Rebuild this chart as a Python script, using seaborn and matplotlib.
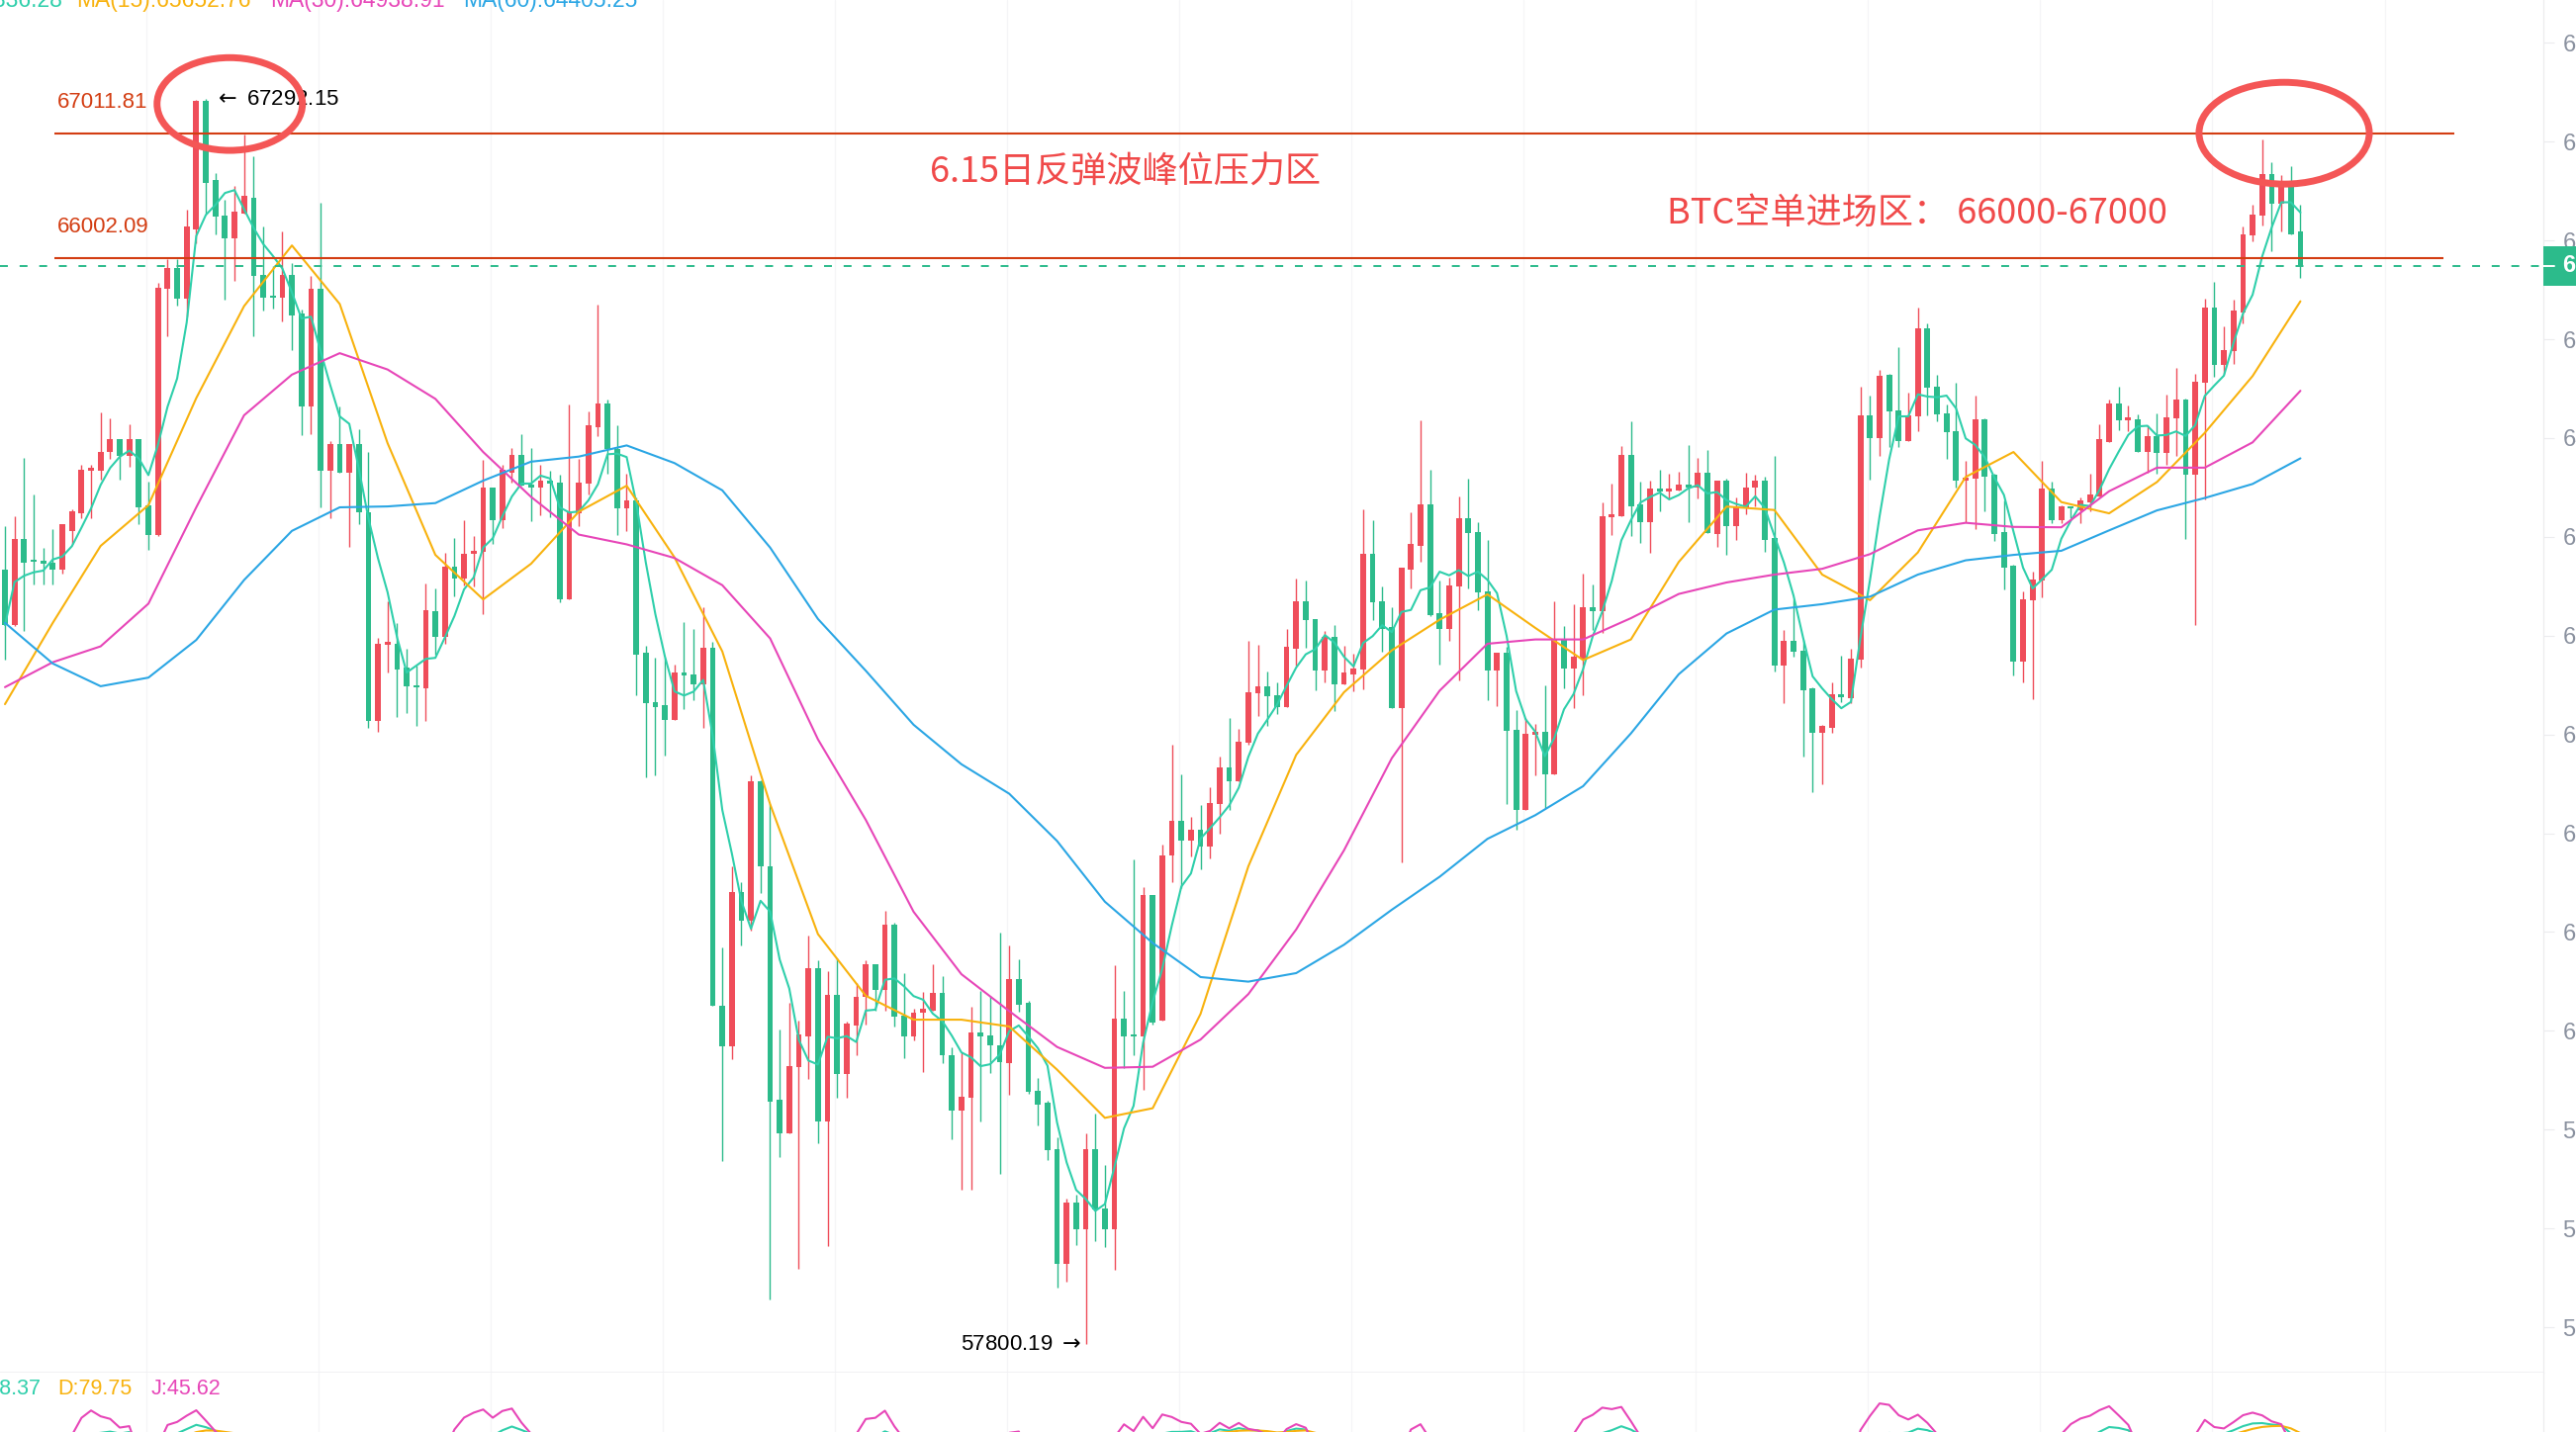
import numpy as np
import pandas as pd
import matplotlib
matplotlib.use("Agg")
import matplotlib.pyplot as plt
import matplotlib.transforms as mtransforms
from matplotlib.patches import Ellipse, Rectangle
from matplotlib.ticker import NullLocator
import seaborn as sns

# candle data (one bar per index)
open_ = [63538, 63107, 63771, 63614, 63604, 63587, 63538, 63837, 63971, 64307,
         64307, 64458, 64559, 64424, 64559, 64038, 63804, 65751, 65923, 65676,
         66235, 67280, 66634, 66346, 66158, 66363, 66485, 65861, 65700, 65683,
         65861, 65552, 64813, 65751, 64307, 64519, 64290, 64519, 63981, 62369,
         62953, 62959, 62778, 62647, 62624, 63214, 63014, 63556, 63466, 63656,
         63677, 64174, 63920, 64292, 64435, 64200, 64174, 64230, 64215, 63305,
         63971, 64205, 64654, 64839, 64481, 64012, 64078, 62894, 62515, 62490,
         62381, 62744, 62729, 62655, 62929, 60240, 59944, 61083, 60866, 61913,
         61277, 59551, 59305, 59788, 60016, 60519, 59395, 60322, 59740, 60097,
         60304, 60548, 60355, 60842, 60170, 60011, 60187, 60200, 60334, 59879,
         59474, 59568, 60041, 60024, 59949, 59817, 60438, 60262, 59618, 59527,
         59193, 58371, 58809, 58614, 59193, 58765, 58614, 60145, 60032, 60011,
         61062, 60128, 61359, 61614, 61465, 61550, 61422, 61743, 62022, 61914,
         62203, 62583, 62635, 62570, 62477, 62925, 63288, 63154, 62760, 63016,
         62654, 62729, 62762, 63659, 63288, 63092, 62472, 63538, 63723, 64044,
         63199, 63080, 63403, 63936, 63825, 63365, 62760, 62894, 62302, 61695,
         62264, 62289, 61964, 62996, 62775, 62851, 63245, 63217, 63941, 63954,
         64432, 64044, 63908, 64168, 64142, 64152, 64199, 64173, 64289, 63815,
         64227, 63876, 64019, 64174, 64227, 63780, 62793, 62984, 62906, 62618,
         62280, 62319, 62574, 62548, 62840, 64743, 64562, 65062, 64786, 64543,
         64737, 65435, 64975, 64759, 64616, 64232, 64248, 64710, 64275, 63828,
         63563, 62822, 63299, 63452, 64168, 63921, 64027, 64000, 64062, 64107,
         64535, 64837, 64702, 64711, 64457, 64582, 64451, 64720, 64870, 64278,
         65002, 65605, 65141, 65252, 65563, 66185, 66346, 66679, 66438, 66592,
         66215]

high = [63871, 63954, 64408, 64122, 63704, 63854, 63888, 64004, 64357, 64357,
        64769, 64721, 64559, 64677, 64559, 64223, 65803, 65992, 65992, 66391,
        67285, 67292.15, 66693, 66471, 66582, 67008, 66826, 66255, 65940, 66217,
        65957, 65587, 65854, 66450, 64542, 64813, 64519, 64633, 64458, 63009,
        63289, 63124, 62926, 62794, 63428, 63390, 63666, 63783, 63920, 63798,
        64394, 64174, 64353, 64486, 64598, 64486, 64358, 64307, 64276, 64829,
        64404, 64777, 65630, 64870, 64665, 64281, 64098, 62944, 62854, 62854,
        62804, 63129, 63079, 63244, 62979, 60673, 61277, 61156, 61962, 61922,
        61741, 60064, 60264, 60130, 60755, 60577, 60495, 60586, 60121, 60408,
        60577, 60548, 60943, 60850, 60481, 60221, 60338, 60548, 60460, 59937,
        59900, 60229, 60346, 60313, 60779, 60682, 60585, 60275, 59709, 59544,
        59276, 58838, 58866, 59309, 59453, 59082, 60535, 60346, 61329, 61117,
        61062, 61435, 62194, 61966, 61648, 61734, 61871, 62099, 62397, 62315,
        62984, 62953, 62748, 62670, 63077, 63467, 63449, 63154, 63064, 63105,
        62945, 62889, 64005, 63923, 63403, 63245, 63551, 63979, 64705, 64315,
        63449, 63472, 64108, 64245, 63903, 63766, 62894, 62940, 62452, 62394,
        62352, 62641, 63288, 63103, 63268, 63505, 63423, 64057, 64206, 64502,
        64697, 64224, 64230, 64315, 64281, 64302, 64510, 64406, 64468, 64227,
        64248, 64099, 64294, 64275, 64259, 64428, 63071, 63305, 62990, 62631,
        62345, 62670, 62874, 62927, 64972, 64900, 65108, 65075, 65283, 64921,
        65605, 65476, 65062, 64832, 64999, 64383, 64900, 64724, 64286, 64072,
        63576, 63365, 63523, 64388, 64222, 64040, 64027, 64099, 64281, 64675,
        64872, 64975, 64824, 64750, 64666, 64756, 64906, 65117, 64876, 65071,
        65675, 65806, 65454, 65666, 66255, 66429, 66963, 66778, 66670, 66747,
        66429]

low = [62844, 63100, 63058, 63422, 63422, 63422, 63505, 63737, 63937, 63937,
       64240, 64398, 64240, 64340, 63888, 63687, 63800, 65374, 65621, 65528,
       66120, 66356, 66193, 65666, 65820, 66360, 65374, 65580, 65597, 65494,
       65265, 64586, 64599, 64021, 63937, 64290, 63714, 63888, 62320, 62287,
       62745, 62402, 62434, 62336, 62369, 62879, 62964, 63330, 63415, 63405,
       63194, 63732, 63859, 64215, 64190, 63910, 63961, 63946, 63279, 63305,
       63874, 64123, 64583, 64281, 63808, 63834, 62570, 61947, 61962, 62109,
       62381, 62465, 62530, 62321, 60240, 59104, 59849, 60687, 60793, 61074,
       58114, 59137, 59305, 58335, 59702, 59235, 58498, 59565, 59565, 59873,
       60103, 60200, 60200, 60087, 59858, 59983, 59755, 60200, 59817, 59268,
       58899, 58899, 59391, 59743, 59013, 59585, 60192, 59597, 59362, 59115,
       58201, 58241, 58504, 57800.19, 58533, 58492, 58330, 59784, 59879, 59626,
       60103, 60128, 61155, 61113, 61350, 61252, 61337, 61520, 61700, 61914,
       62194, 62410, 62337, 62423, 62477, 62792, 62932, 62603, 62666, 62445,
       62654, 62596, 62616, 63143, 62899, 62472, 61307, 63390, 63595, 63179,
       62805, 62988, 62679, 63390, 63225, 62528, 62482, 61745, 61547, 61695,
       61959, 61710, 61964, 62621, 62472, 62566, 63067, 63047, 63807, 63954,
       63800, 63741, 63664, 63992, 64083, 64152, 63903, 64090, 63818, 63709,
       63648, 63770, 63966, 64027, 63674, 62749, 62506, 62866, 62105, 61829,
       61888, 62280, 62519, 62509, 62783, 64240, 64428, 64495, 64495, 64543,
       64616, 64745, 64697, 64402, 64174, 63908, 63849, 63987, 63762, 63386,
       62717, 62670, 62540, 63320, 63894, 63894, 63934, 63894, 63987, 64107,
       64535, 64629, 64616, 64457, 64293, 64284, 64352, 64427, 63776, 63107,
       64085, 65050, 65071, 65153, 65478, 66136, 66264, 66056, 66215, 66194,
       65842]

close = [63107, 63771, 63587, 63594, 63581, 63538, 63888, 63988, 64317, 64330,
         64458, 64559, 64424, 64559, 64021, 63804, 65758, 65923, 65676, 66255,
         67280, 66610, 66332, 66158, 66373, 66502, 65854, 65683, 65683, 65861,
         65538, 64813, 65751, 64307, 64519, 64290, 64519, 63981, 62369, 62959,
         62976, 62768, 62637, 62630, 63223, 63014, 63556, 63466, 63656, 63682,
         64174, 63920, 64317, 64435, 64190, 64174, 64230, 64205, 63305, 63987,
         64215, 64665, 64839, 64481, 64012, 64078, 62879, 62505, 62480, 62381,
         62744, 62719, 62655, 62929, 60240, 59944, 61083, 60866, 61913, 61277,
         59541, 59305, 59797, 60026, 60519, 59395, 60322, 59740, 60107, 60302,
         60548, 60355, 60842, 60158, 60011, 60187, 60221, 60334, 59879, 59474,
         59577, 60041, 60011, 59949, 59825, 60438, 60250, 59610, 59515, 59185,
         58371, 58809, 58614, 59193, 58756, 58614, 60145, 60011, 60011, 61062,
         60116, 61359, 61614, 61465, 61550, 61422, 61751, 62022, 61914, 62216,
         62592, 62635, 62561, 62475, 62940, 63288, 63143, 62760, 63016, 62654,
         62742, 62773, 63659, 63281, 63077, 62472, 63551, 63736, 64044, 63186,
         63080, 63410, 63936, 63818, 63357, 62760, 62894, 62294, 61695, 62277,
         62289, 61964, 62996, 62775, 62861, 63245, 63217, 63954, 63967, 64432,
         64031, 63908, 64168, 64142, 64168, 64199, 64173, 64289, 63818, 64227,
         63876, 64027, 64179, 64227, 63770, 62793, 62984, 62901, 62605, 62280,
         62332, 62574, 62553, 62845, 64743, 64562, 65056, 64778, 64543, 64743,
         65435, 64967, 64751, 64608, 64232, 64254, 64710, 64262, 63815, 63550,
         62822, 63305, 63457, 64168, 63921, 64027, 64014, 64072, 64120, 64557,
         64837, 64702, 64732, 64457, 64582, 64451, 64726, 64870, 64278, 65011,
         65605, 65141, 65261, 65575, 66194, 66355, 66679, 66438, 66592, 66194,
         65940]

# moving averages every 5 bars
ma_idx = list(range(0, 241, 5))
ma15 = [62500, 63124, 63720, 64038, 64881, 65614, 66102, 65631, 64525, 63650,
        63305, 63581, 63987, 64190, 63631, 62904, 61741, 60769, 60313, 60137,
        60137, 60087, 59771, 59420, 59490, 60179, 61274, 62114, 62591, 62912,
        63148, 63344, 63085, 62838, 62996, 63595, 64027, 64000, 63497, 63299,
        63669, 64259, 64455, 64062, 63974, 64219, 64606, 65056, 65652.76]
ma30 = [62630, 62821, 62943, 63272, 64021, 64745, 65067, 65238, 65108, 64875,
        64455, 64103, 63808, 63732, 63626, 63415, 63004, 62232, 61623, 60935,
        60472, 60200, 59937, 59784, 59792, 59991, 60325, 60803, 61394, 62089,
        62603, 62963, 62996, 62996, 63160, 63347, 63436, 63497, 63542, 63656,
        63841, 63900, 63868, 63865, 64147, 64332, 64332, 64531, 64938.91]
ma60 = [63124, 62811, 62637, 62703, 62992, 63455, 63837, 64021, 64028, 64054,
        64230, 64379, 64419, 64507, 64368, 64154, 63707, 63154, 62756, 62343,
        62043, 61820, 61464, 61010, 60703, 60451, 60417, 60480, 60690, 60950,
        61196, 61480, 61658, 61877, 62277, 62729, 63042, 63226, 63268, 63326,
        63497, 63608, 63650, 63682, 63841, 63997, 64094, 64204, 64405.25]

resist_hi = 67011.81
resist_lo = 66002.09
peak_bar, peak_price = 21, 67292.15
bottom_bar, bottom_price = 113, 57800.19
price_ticks = [67759, 66946, 66143, 65349, 64565, 63790, 63025, 62269,
               61522, 60784, 60054, 59334, 58622, 57918]
ma_legend = [("MA(5):66336.28", "#2fcfab"), ("MA(15):65652.76", "#f8b20e"),
             ("MA(30):64938.91", "#e746b8"), ("MA(60):64405.25", "#2ba6e4")]
kdj_legend = [("K:68.37", "#2fcfab"), ("D:79.75", "#f8b20e"), ("J:45.62", "#e746b8")]

RED = "#ef4d5a"
GREEN = "#2cbb8b"
LINE_RED = "#d33d12"
TXT_RED = "#f04a4a"
RING = "#f45656"
TEAL, ORANGE, MAGENTA, BLUE = "#2fcfab", "#f8b20e", "#e746b8", "#2ba6e4"
GRID = "#f5f5f7"
EDGE = "#ececee"

sns.set_theme(style="white")
plt.rcParams["font.family"] = ["Liberation Sans", "DejaVu Sans"]
plt.rcParams["mathtext.fontset"] = "dejavusans"
CJK = ["Noto Sans CJK SC", "DejaVu Sans"]

W, H = 2604, 1448
fig = plt.figure(figsize=(W / 100, H / 100), dpi=100)
fig.patch.set_facecolor("white")

df = pd.DataFrame({"open": open_, "high": high, "low": low, "close": close})
df["x"] = np.arange(len(df))
up = df["close"] >= df["open"]
colors = np.where(up, RED, GREEN)
xlim = (-0.52, 265.4)

# ---- main price pane ----
ax = fig.add_axes([0, 60 / H, 2571 / W, 1388 / H])
ax.set_yscale("log")
ax.set_xlim(*xlim)
ax.set_ylim(57599, 68114)

ax.vlines(df["x"], df["low"], df["high"], colors=colors, lw=1.0, zorder=2)
body_lo = df[["open", "close"]].min(axis=1)
body_hi = df[["open", "close"]].max(axis=1)
body_h = np.maximum(body_hi - body_lo, body_lo * 0.00025)
ax.bar(df["x"], body_h, bottom=body_lo, width=0.6, color=colors, linewidth=0, zorder=2)

ma5 = df["close"].rolling(5, min_periods=1).mean()
sns.lineplot(x=df["x"], y=ma5, ax=ax, color=TEAL, linewidth=1.5, estimator=None, zorder=3)
sns.lineplot(x=ma_idx, y=ma15, ax=ax, color=ORANGE, linewidth=1.5, estimator=None, zorder=3)
sns.lineplot(x=ma_idx, y=ma30, ax=ax, color=MAGENTA, linewidth=1.5, estimator=None, zorder=3)
sns.lineplot(x=ma_idx, y=ma60, ax=ax, color=BLUE, linewidth=1.5, estimator=None, zorder=3)

# resistance lines drawn with the drawing tool
ax.hlines(resist_hi, 5.2, 256.1, color=LINE_RED, lw=1.5, zorder=4)
ax.hlines(resist_lo, 5.2, 255.0, color=LINE_RED, lw=1.5, zorder=4)
for lvl in (resist_hi, resist_lo):
    ax.annotate(f"{lvl:.2f}", xy=(5.2, lvl), xytext=(2, 22.5), textcoords="offset points",
                color=LINE_RED, fontsize=16, ha="left", va="center")

last = df["close"].iloc[-1]
ax.axhline(last, color=GREEN, lw=1.4, linestyle=(0, (4.1, 6.1)), zorder=4)

ax.annotate(r"$\leftarrow$" + f" {peak_price:.2f}", xy=(peak_bar, peak_price), xytext=(6, 0),
            textcoords="offset points", ha="left", va="center", fontsize=16, color="black")
ax.annotate(f"{bottom_price:.2f} " + r"$\rightarrow$", xy=(bottom_bar, bottom_price),
            xytext=(-3, 0), textcoords="offset points", ha="right", va="center",
            fontsize=16, color="black")

ax.text(117.1, 66690, "6.15日反弹波峰位压力区", family=CJK, fontsize=26,
        color=TXT_RED, ha="center", va="center", zorder=5)
ax.text(199.9, 66359, "BTC空单进场区： 66000-67000", family=CJK, fontsize=26,
        color=TXT_RED, ha="center", va="center", zorder=5)

ax.add_patch(Ellipse((23.5, 67255), 15.2, 762, fill=False, ec=RING, lw=5, zorder=6))
ax.add_patch(Ellipse((238.3, 67016), 17.8, 833, fill=False, ec=RING, lw=5, zorder=6))

# axes styling
grid_x = np.arange(14.8, 260, 18)
ax.set_xticks(grid_x)
ax.xaxis.grid(True, color=GRID, lw=0.9)
ax.yaxis.grid(False)
ax.tick_params(axis="x", length=0, labelbottom=False)
ax.yaxis.tick_right()
ax.set_yticks(price_ticks)
ax.set_yticklabels([f"{t:.2f}" for t in price_ticks])
ax.yaxis.set_minor_locator(NullLocator())
ax.tick_params(axis="y", which="major", length=8, width=0.8, color=EDGE, pad=6,
               labelsize=17, labelcolor="#8a919f")
for s in ("top", "left"):
    ax.spines[s].set_visible(False)
ax.spines["right"].set_color(EDGE)
ax.spines["right"].set_linewidth(0.9)
ax.spines["bottom"].set_color("#efeff1")
ax.spines["bottom"].set_linewidth(1.2)
ax.set_xlabel("")
ax.set_ylabel("")

# last price tag on the axis
trans = mtransforms.blended_transform_factory(ax.transAxes, ax.transData)
ax.add_patch(Rectangle((1.0, last * 0.997587), 0.02, last * (1.002419 - 0.997587),
                       transform=trans, clip_on=False, fc=GREEN, ec="none", zorder=10))
ax.plot([1.0, 1.0043], [last, last], transform=trans, color="white", lw=1.4,
        clip_on=False, zorder=11)
ax.text(1.0074, last, f"{last:.2f}", transform=trans, color="white", fontsize=17,
        fontweight="bold", ha="left", va="center", clip_on=False, zorder=11)

# ---- KDJ pane (mostly cut off at the bottom) ----
kd_low = df["low"].rolling(9, min_periods=1).min()
kd_high = df["high"].rolling(9, min_periods=1).max()
rsv = (df["close"] - kd_low) / (kd_high - kd_low) * 100
k_line = rsv.ewm(alpha=1 / 3, adjust=False).mean()
d_line = k_line.ewm(alpha=1 / 3, adjust=False).mean()
j_line = 3 * k_line - 2 * d_line

ax2 = fig.add_axes([0, -80 / H, 2571 / W, 140 / H])
ax2.set_xlim(*xlim)
sns.lineplot(x=df["x"], y=k_line, ax=ax2, color=TEAL, linewidth=1.5, estimator=None)
sns.lineplot(x=df["x"], y=d_line, ax=ax2, color=ORANGE, linewidth=1.5, estimator=None)
sns.lineplot(x=df["x"], y=j_line, ax=ax2, color=MAGENTA, linewidth=1.5, estimator=None)
lo, hi = j_line.min(), j_line.max()
rng = hi - lo
ax2.set_ylim(lo - 0.05 * rng, hi + 0.3 * rng)
ax2.set_xticks(grid_x)
ax2.xaxis.grid(True, color=GRID, lw=0.9)
ax2.tick_params(axis="both", length=0, labelbottom=False, labelleft=False)
for s in ("top", "left", "bottom"):
    ax2.spines[s].set_visible(False)
ax2.spines["right"].set_color(EDGE)
ax2.spines["right"].set_linewidth(0.9)
ax2.set_xlabel("")
ax2.set_ylabel("")

# ---- legends (cut at the image edges) ----
ma_x = [63, 77.6, 273, 468]
for i, ((txt, col), x) in enumerate(zip(ma_legend, ma_x)):
    fig.text(x / W, 1 - 7 / H, txt, color=col, fontsize=16.5,
             ha="right" if i == 0 else "left", va="baseline")
kdj_x = [41, 58, 153]
for i, ((txt, col), x) in enumerate(zip(kdj_legend, kdj_x)):
    fig.text(x / W, (H - 1405) / H, txt, color=col, fontsize=15.5,
             ha="right" if i == 0 else "left", va="center")

fig.savefig("out.png", dpi=100)
